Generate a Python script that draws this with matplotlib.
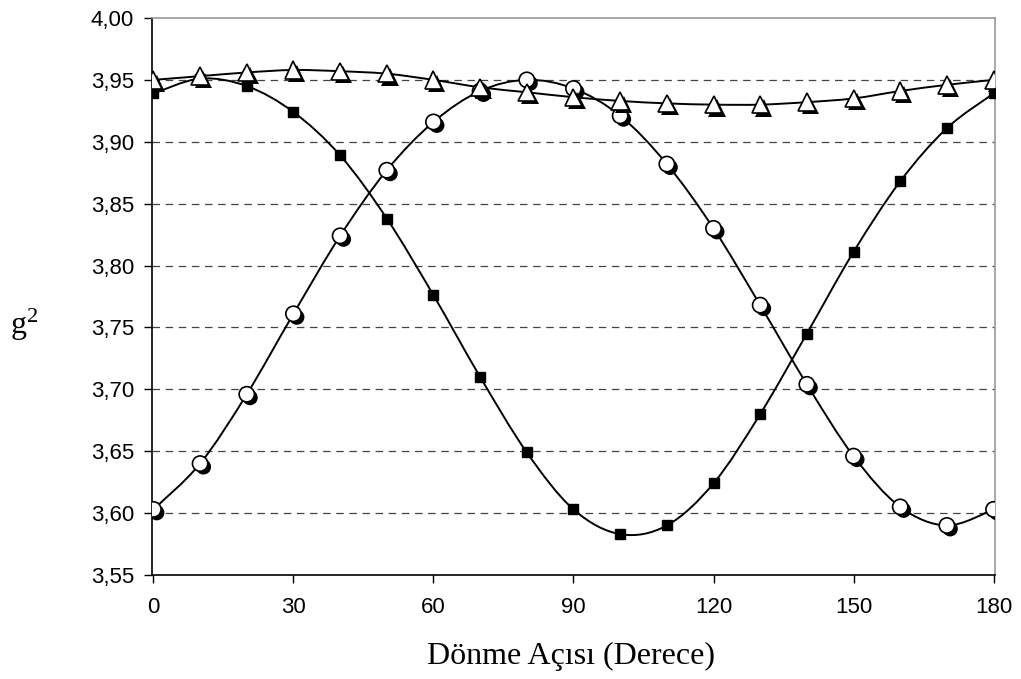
import numpy as np
import matplotlib.pyplot as plt
import matplotlib.patheffects as pe
from matplotlib.path import Path
from matplotlib.patches import PathPatch
from matplotlib.ticker import FuncFormatter

plt.rcParams['mathtext.default'] = 'regular'

# Donme acisi (derece)
aci = [0, 10, 20, 30, 40, 50, 60, 70, 80, 90, 100, 110, 120, 130, 140, 150, 160, 170, 180]

# g^2 degerleri
kare = [3.939, 3.951, 3.945, 3.924, 3.889, 3.838, 3.776, 3.710, 3.649, 3.603,
        3.583, 3.590, 3.624, 3.680, 3.745, 3.811, 3.868, 3.911, 3.939]
daire = [3.603, 3.640, 3.696, 3.761, 3.824, 3.877, 3.916, 3.941, 3.950, 3.943,
         3.921, 3.882, 3.830, 3.768, 3.704, 3.646, 3.605, 3.590, 3.603]
ucgen = [3.950, 3.953, 3.956, 3.958, 3.957, 3.955, 3.950, 3.944, 3.940, 3.936,
         3.933, 3.931, 3.930, 3.930, 3.932, 3.935, 3.941, 3.946, 3.950]

y_ticks = [3.55, 3.60, 3.65, 3.70, 3.75, 3.80, 3.85, 3.90, 3.95, 4.00]
x_ticks = [0, 30, 60, 90, 120, 150, 180]


def smooth_path(x, y):
    # Excel tarzi yumusatilmis cizgi (Bezier)
    x = np.asarray(x, float)
    y = np.asarray(y, float)
    verts = [(x[0], y[0])]
    codes = [Path.MOVETO]
    n = len(x)
    for i in range(n - 1):
        p0 = np.array([x[max(i - 1, 0)], y[max(i - 1, 0)]])
        p1 = np.array([x[i], y[i]])
        p2 = np.array([x[i + 1], y[i + 1]])
        p3 = np.array([x[min(i + 2, n - 1)], y[min(i + 2, n - 1)]])
        c1 = p1 + (p2 - p0) / 6
        c2 = p2 - (p3 - p1) / 6
        verts += [tuple(c1), tuple(c2), tuple(p2)]
        codes += [Path.CURVE4] * 3
    return Path(verts, codes)


fig = plt.figure(figsize=(10.21, 6.79), dpi=100)
ax = fig.add_axes([0.1489, 0.1532, 0.8256, 0.8203])

for seri in (kare, daire, ucgen):
    ax.add_patch(PathPatch(smooth_path(aci, seri), fill=False, edgecolor='black',
                           linewidth=1.4, zorder=3))

golge = [pe.SimplePatchShadow(offset=(2.4, -2.4), shadow_rgbFace='black', alpha=1.0),
         pe.Normal()]

ax.plot(aci, kare, linestyle='none', marker='s', markersize=7,
        markerfacecolor='black', markeredgecolor='black', zorder=4)
ax.plot(aci, daire, linestyle='none', marker='o', markersize=11,
        markerfacecolor='white', markeredgecolor='black', markeredgewidth=1.2,
        path_effects=golge, zorder=5)
ax.plot(aci, ucgen, linestyle='none', marker='^', markersize=12.5,
        markerfacecolor='white', markeredgecolor='black', markeredgewidth=1.2,
        path_effects=golge, zorder=5)

ax.set_xlim(-0.3, 180.3)
ax.set_ylim(3.55, 4.00)
ax.set_xticks(x_ticks)
ax.set_yticks(y_ticks)
ax.yaxis.set_major_formatter(FuncFormatter(lambda v, p: f'{v:.2f}'.replace('.', ',')))

for y in y_ticks[1:-1]:
    ax.axhline(y, color='#444444', linestyle=(0, (6, 4.5)), linewidth=0.9, zorder=1)

ax.spines['left'].set_color('black')
ax.spines['bottom'].set_color('black')
ax.spines['top'].set_color('#999999')
ax.spines['right'].set_color('#999999')
for s in ax.spines.values():
    s.set_linewidth(1.2)

ax.tick_params(direction='out', length=6, width=1, colors='black', labelsize=16)
ax.tick_params(axis='y', pad=7)
ax.tick_params(axis='x', pad=10)
for lab in ax.get_xticklabels() + ax.get_yticklabels():
    lab.set_family('Liberation Sans')

ax.set_xlabel('Dönme Açısı (Derece)', family='Liberation Serif', fontsize=23,
              va='center')
ax.xaxis.set_label_coords(0.497, -0.147)
ax.set_ylabel('g$^2$', family='Liberation Serif', fontsize=23, rotation=0,
              va='center', ha='center')
ax.yaxis.set_label_coords(-0.152, 0.449)

fig.savefig('out.png', dpi=100)
